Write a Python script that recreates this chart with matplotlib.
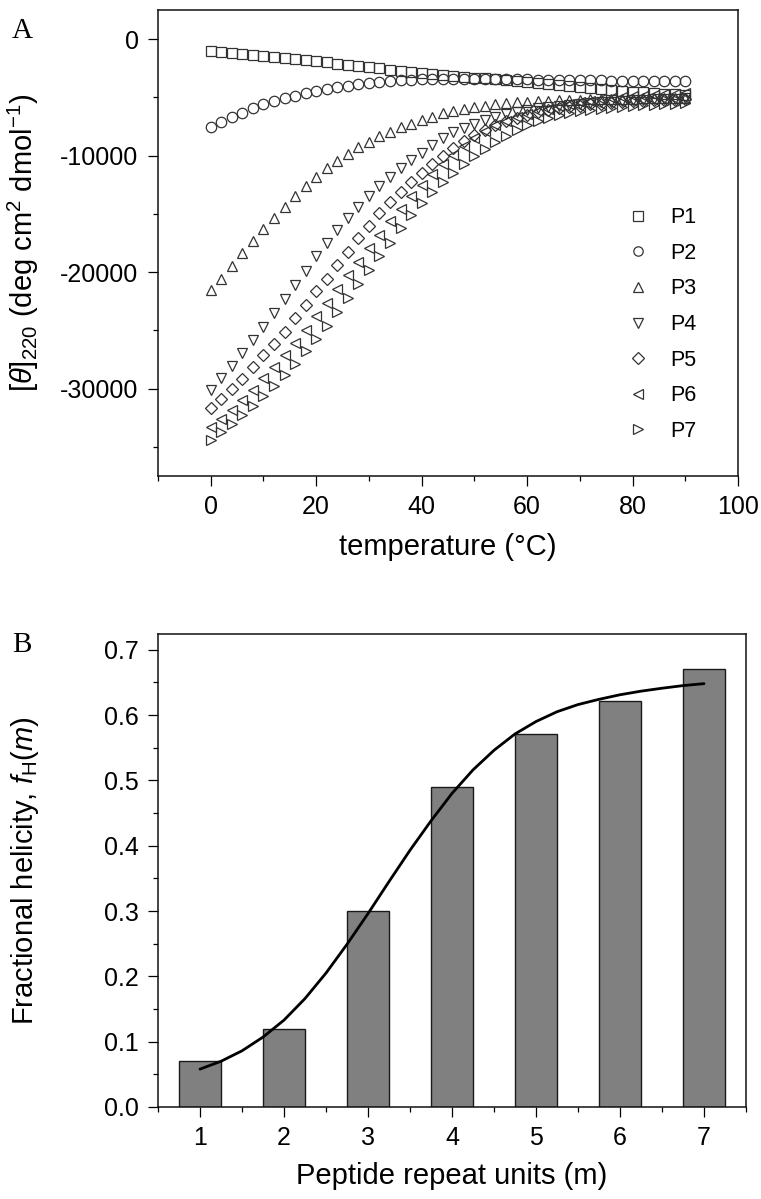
import matplotlib
matplotlib.use("Agg")
import matplotlib.pyplot as plt
from matplotlib.ticker import MultipleLocator, FormatStrFormatter

plt.rcParams['font.family'] = ['Liberation Sans', 'DejaVu Sans']
plt.rcParams['mathtext.fontset'] = 'custom'
plt.rcParams['mathtext.rm'] = 'Liberation Sans'
plt.rcParams['mathtext.it'] = 'Liberation Sans:italic'
plt.rcParams['axes.unicode_minus'] = False

# ---------------- Panel A data ----------------
temperature = list(range(0, 92, 2))
P1 = [-1050, -1100, -1180, -1250, -1330, -1420, -1500, -1600, -1700, -1800,
      -1900, -2000, -2100, -2200, -2300, -2420, -2520, -2620, -2720, -2820,
      -2920, -3020, -3100, -3170, -3240, -3300, -3370, -3450, -3530, -3620,
      -3700, -3800, -3880, -3970, -4050, -4130, -4210, -4290, -4370, -4440,
      -4510, -4580, -4640, -4700, -4750, -4800]
P2 = [-7550, -7150, -6700, -6300, -5950, -5600, -5300, -5050, -4850, -4650,
      -4450, -4280, -4130, -3990, -3870, -3770, -3680, -3610, -3550, -3500,
      -3460, -3430, -3410, -3400, -3400, -3400, -3410, -3420, -3430, -3450,
      -3460, -3480, -3490, -3500, -3520, -3530, -3540, -3550, -3560, -3570,
      -3580, -3590, -3600, -3610, -3620, -3630]
P3 = [-21550, -20550, -19500, -18400, -17300, -16300, -15350, -14400, -13500, -12650,
      -11850, -11100, -10450, -9850, -9300, -8800, -8350, -7950, -7580, -7250,
      -6950, -6650, -6380, -6180, -6000, -5850, -5720, -5600, -5500, -5430,
      -5370, -5320, -5280, -5250, -5220, -5200, -5180, -5160, -5140, -5120,
      -5100, -5090, -5080, -5070, -5060, -5050]
P4 = [-30150, -29100, -28050, -26950, -25850, -24750, -23550, -22300, -21100, -19900,
      -18650, -17500, -16400, -15350, -14400, -13500, -12650, -11850, -11100, -10400,
      -9750, -9100, -8500, -8000, -7600, -7250, -6950, -6700, -6450, -6250,
      -6080, -5950, -5830, -5720, -5630, -5550, -5480, -5420, -5360, -5310,
      -5260, -5220, -5180, -5140, -5110, -5080]
P5 = [-31700, -30900, -30000, -29150, -28150, -27150, -26200, -25100, -23900, -22850,
      -21650, -20550, -19350, -18250, -17100, -16000, -14950, -14000, -13100, -12250,
      -11450, -10700, -10000, -9350, -8780, -8250, -7780, -7380, -7030, -6730,
      -6480, -6270, -6090, -5940, -5810, -5700, -5610, -5530, -5460, -5400,
      -5350, -5300, -5260, -5220, -5190, -5160]
P6 = [-33300, -32600, -31800, -31000, -30100, -29100, -28150, -27150, -26100, -25000,
      -23800, -22650, -21450, -20250, -19100, -17950, -16800, -15650, -14550, -13500,
      -12500, -11600, -10750, -9950, -9200, -8500, -7900, -7400, -7000, -6700,
      -6420, -6180, -5960, -5760, -5580, -5420, -5280, -5160, -5060, -4970,
      -4900, -4840, -4790, -4740, -4700, -4660]
P7 = [-34450, -33750, -33000, -32300, -31500, -30650, -29750, -28850, -27850, -26800,
      -25700, -24650, -23450, -22250, -21000, -19850, -18650, -17500, -16250, -15100,
      -14100, -13150, -12250, -11450, -10750, -10050, -9400, -8850, -8300, -7800,
      -7380, -7050, -6750, -6520, -6330, -6180, -6060, -5960, -5870, -5790,
      -5730, -5680, -5640, -5600, -5560, -5500]
series_labels = ["P1", "P2", "P3", "P4", "P5", "P6", "P7"]
series_markers = ["s", "o", "^", "v", "D", "<", ">"]
series_values = [P1, P2, P3, P4, P5, P6, P7]

# ---------------- Panel B data ----------------
repeat_units = [1, 2, 3, 4, 5, 6, 7]
helicity = [0.07, 0.12, 0.30, 0.49, 0.571, 0.621, 0.67]
fit_m = [1, 1.25, 1.5, 1.75, 2, 2.25, 2.5, 2.75, 3, 3.25, 3.5, 3.75, 4,
         4.25, 4.5, 4.75, 5, 5.25, 5.5, 5.75, 6, 6.25, 6.5, 6.75, 7]
fit_f = [0.058, 0.070, 0.086, 0.107, 0.133, 0.166, 0.205, 0.249, 0.296, 0.345,
         0.393, 0.438, 0.480, 0.516, 0.546, 0.571, 0.590, 0.605, 0.616, 0.624,
         0.631, 0.6365, 0.641, 0.645, 0.648]

W, H = 761, 1199
fig = plt.figure(figsize=(W / 100, H / 100), dpi=100)

def axrect(l, t, r, b):
    return [l / W, 1 - b / H, (r - l) / W, (b - t) / H]

edge = '#333333'
tick_fs = 18
label_fs = 21

# ---------------- Panel A ----------------
ax1 = fig.add_axes(axrect(158, 10, 738, 476))
for vals, mk, lab in zip(series_values, series_markers, series_labels):
    ms = 7.5 if mk != 'D' else 6.4
    ax1.plot(temperature, vals, linestyle='none', marker=mk, markersize=ms,
             markerfacecolor='none', markeredgecolor=edge, markeredgewidth=0.9,
             label=lab)
ax1.set_xlim(-10, 100)
ax1.set_ylim(-37500, 2500)
ax1.xaxis.set_major_locator(MultipleLocator(20))
ax1.xaxis.set_minor_locator(MultipleLocator(10))
ax1.yaxis.set_major_locator(MultipleLocator(10000))
ax1.yaxis.set_minor_locator(MultipleLocator(5000))
ax1.set_xlabel('temperature (\u00b0C)', fontsize=label_fs, labelpad=10)
ax1.set_ylabel(r'[$\mathit{\theta}$]$_{220}$ (deg cm$^{2}$ dmol$^{-1}$)', fontsize=label_fs)
ax1.yaxis.set_label_coords(-0.2017, 0.5)
leg = ax1.legend(loc='upper left', bbox_to_anchor=(0.79, 0.60), frameon=False,
                 fontsize=15.5, markerscale=0.9, handlelength=1.0, handletextpad=1.0,
                 labelspacing=0.68, borderpad=0)

# ---------------- Panel B ----------------
ax2 = fig.add_axes(axrect(158, 634, 746, 1107))
ax2.bar(repeat_units, helicity, width=0.5, color='#808080', edgecolor='#1a1a1a',
        linewidth=1.0, zorder=2)
ax2.plot(fit_m, fit_f, color='black', linewidth=2.0, zorder=3,
         solid_joinstyle='round', solid_capstyle='round')
ax2.set_xlim(0.5, 7.5)
ax2.set_ylim(0, 0.724)
ax2.xaxis.set_major_locator(MultipleLocator(1))
ax2.xaxis.set_minor_locator(MultipleLocator(0.5))
ax2.yaxis.set_major_locator(MultipleLocator(0.1))
ax2.yaxis.set_minor_locator(MultipleLocator(0.05))
ax2.yaxis.set_major_formatter(FormatStrFormatter('%.1f'))
ax2.set_xlabel('Peptide repeat units (m)', fontsize=label_fs, labelpad=8)
ax2.set_ylabel(r'Fractional helicity, $\mathit{f}_{\mathrm{H}}(\mathit{m})$', fontsize=label_fs)
ax2.yaxis.set_label_coords(-0.199, 0.5)

for ax in (ax1, ax2):
    for s in ax.spines.values():
        s.set_linewidth(1.1)
        s.set_color('#111111')
    ax.tick_params(which='major', direction='out', length=7, width=0.9,
                   labelsize=tick_fs, pad=7, top=False, right=False)
    ax.tick_params(which='minor', direction='out', length=3.8, width=0.9,
                   top=False, right=False)

fig.text(12 / W, 1 - 38 / H, 'A', fontsize=21, family='Liberation Serif')
fig.text(12 / W, 1 - 652 / H, 'B', fontsize=21, family='Liberation Serif')

fig.savefig('out.png', dpi=100)
